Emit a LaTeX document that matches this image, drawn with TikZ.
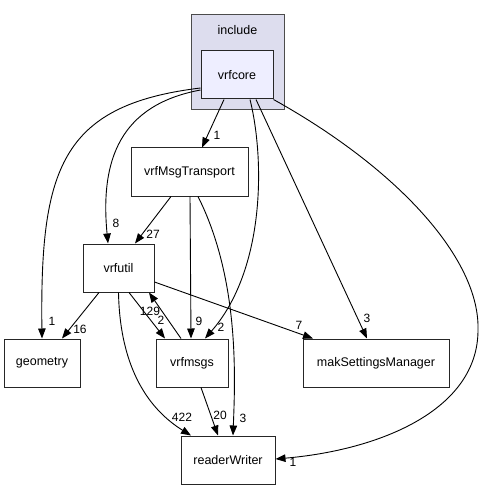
\documentclass[tikz,border=0pt]{standalone}
\usepackage{fontspec}
\setmainfont{Liberation Sans}
\usetikzlibrary{calc,arrows.meta}
\definecolor{clusterFill}{HTML}{DDDDEE}
\definecolor{coreFill}{HTML}{EEEEFF}
\tikzset{
 dirBox/.style = {draw=black!85, line width=1pt, minimum height=48pt, inner sep=0pt,
  font=\fontsize{12.5}{14}\selectfont},
 depLine/.style = {draw=black, line width=0.9pt, -{Triangle[length=10pt,width=7.5pt]}},
 depCount/.style = {inner sep=0pt, font=\fontsize{12}{13}\selectfont}
}
\newcommand{\depCount}[3]{
    \node[depCount] (#1) at #2 {#3};
}
\begin{document}
\begin{tikzpicture}[x=1pt,y=-1pt]
    \useasboundingbox (0,0) rectangle (485,489);
    \draw[draw=black!70, fill=clusterFill, line width=1pt] (191,15) rectangle (284,110);
    \node[depCount, font=\fontsize{12.5}{14}\selectfont] (include) at (237.5,30) {include};

    \node[dirBox, fill=coreFill, minimum width=72pt] (vrfcore) at (237,75) {vrfcore};
    \node[dirBox, minimum width=117pt] (vrfMsgTransport) at (189.5,172) {vrfMsgTransport};
    \node[dirBox, minimum width=71pt] (vrfutil) at (118.5,268) {vrfutil};
    \node[dirBox, minimum width=76pt] (geometry) at (42,363) {geometry};
    \node[dirBox, minimum width=72pt] (vrfmsgs) at (192,363) {vrfmsgs};
    \node[dirBox, minimum width=146pt] (makSettingsManager) at (376,363) {makSettingsManager};
    \node[dirBox, minimum width=94pt] (readerWriter) at (228,460) {readerWriter};

    \draw[depLine] ($(vrfcore.south)+(-13,0)$) -- ($(vrfMsgTransport.north)+(12.5,0)$);
    \draw[depLine] ($(vrfcore.west)+(0,15)$) .. controls (120,105) and (100,160) .. ($(vrfutil.north)+(-10.5,0)$);
    \draw[depLine] ($(vrfcore.west)+(0,13)$) .. controls (60,105) and (40,170) .. (geometry.north);
    \draw[depLine] ($(vrfcore.south)+(13,0)$) .. controls (265,160) and (265,270) .. ($(vrfmsgs.north)+(13,0)$);
    \draw[depLine] ($(vrfcore.south)+(19,0)$) -- ($(makSettingsManager.north)+(-9,0)$);
    \draw[depLine] (vrfcore.south east) .. controls (400,170) and (480,260) .. (478,330)
        .. controls (478,410) and (380,450) .. ($(readerWriter.east)+(0,-1)$);

    \draw[depLine] ($(vrfMsgTransport.south)+(-18.5,0)$) -- ($(vrfutil.north)+(16.5,0)$);
    \draw[depLine] ($(vrfMsgTransport.south)+(0.5,0)$) -- ($(vrfmsgs.north)+(-1,0)$);
    \draw[depLine] ($(vrfMsgTransport.south)+(8.5,0)$) .. controls (240,280) and (235,380) .. ($(readerWriter.north)+(5,0)$);

    \draw[depLine] ($(vrfutil.south)+(-19.5,0)$) -- ($(geometry.north)+(20,0)$);
    \draw[depLine] ($(vrfutil.south)+(10.5,0)$) -- ($(vrfmsgs.north)+(-27,0)$);
    \draw[depLine] ($(vrfmsgs.north)+(-11,0)$) -- ($(vrfutil.south)+(30.5,0)$);
    \draw[depLine] (vrfutil.south) .. controls (120,370) and (150,410) .. ($(readerWriter.north)+(-37,0)$);
    \draw[depLine] ($(vrfutil.east)+(0,14)$) -- ($(makSettingsManager.north)+(-63,0)$);
    \draw[depLine] ($(vrfmsgs.south)+(9,0)$) -- ($(readerWriter.north)+(-10,0)$);

    \depCount{nTransport}{(217,135)}{1}
    \depCount{nUtilCore}{(116,223)}{8}
    \depCount{nUtilTransport}{(153,234)}{27}
    \depCount{nGeomCore}{(52,321)}{1}
    \depCount{nGeomUtil}{(80,329)}{16}
    \depCount{nUtilMsgs}{(150,311)}{129}
    \depCount{nMsgsUtil}{(161,320)}{2}
    \depCount{nMsgsTransport}{(199,321)}{9}
    \depCount{nMsgsCore}{(221,327)}{2}
    \depCount{nMakUtil}{(299,325)}{7}
    \depCount{nMakCore}{(367,318)}{3}
    \depCount{nRwUtil}{(182,417)}{422}
    \depCount{nRwMsgs}{(220,415)}{20}
    \depCount{nRwTransport}{(243,418)}{3}
    \depCount{nRwCore}{(293,462)}{1}
\end{tikzpicture}
\end{document}
